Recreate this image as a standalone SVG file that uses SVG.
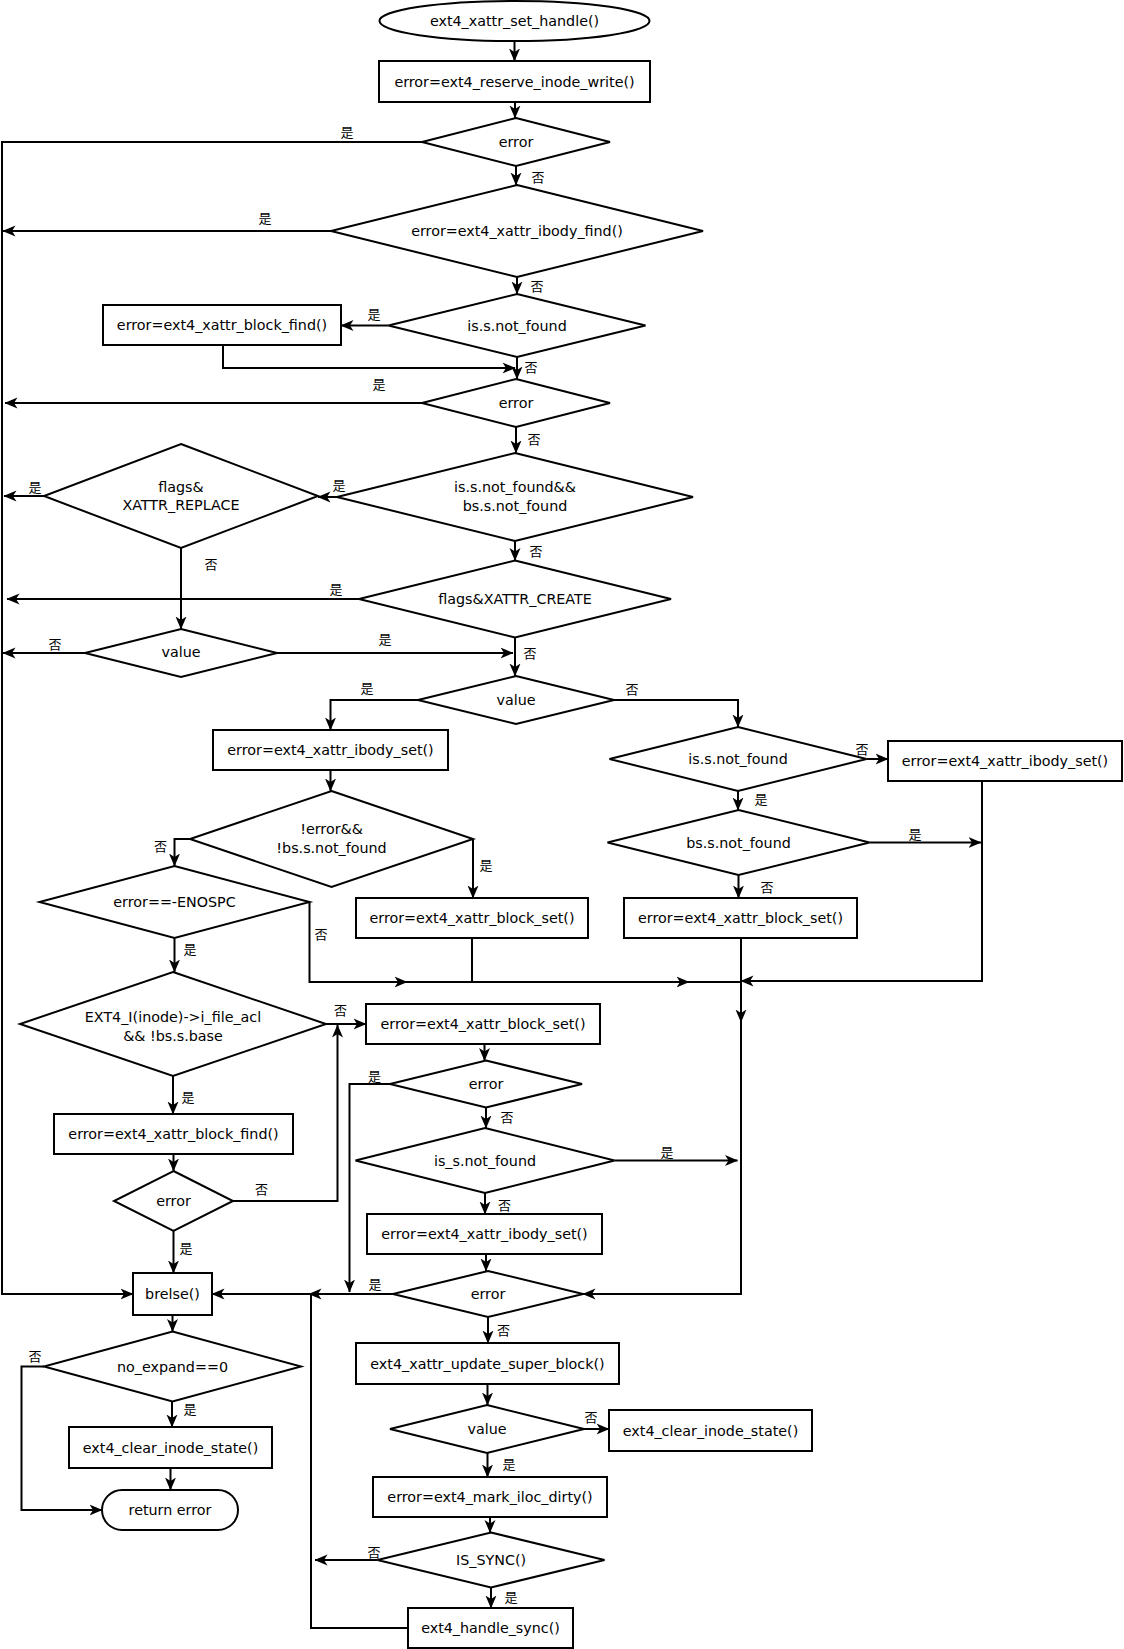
<svg xmlns="http://www.w3.org/2000/svg" width="1124" height="1649" viewBox="0 0 1124 1649">
<style>
.n{fill:#fff;stroke:#000;stroke-width:2}
.t{font-family:"DejaVu Sans",sans-serif;font-size:14.3px;text-anchor:middle;dominant-baseline:central;fill:#000}
.l{font-family:"Noto Sans CJK SC",sans-serif;font-size:13px;text-anchor:middle;dominant-baseline:central;fill:#000}
.c{fill:none;stroke:#000;stroke-width:2}
.a{marker-end:url(#ah)}
</style>
<defs>
<marker id="ah" markerUnits="userSpaceOnUse" markerWidth="13" markerHeight="12" viewBox="0 0 13 12" refX="12.5" refY="6" orient="auto">
<path d="M0,0.5 L13,6 L0,11.5 L3.5,6 z" fill="#000"/>
</marker>
</defs>
<rect width="1124" height="1649" fill="#fff"/>
<g id="connectors">
<path class="c a" d="M514.5,41 V61"/>
<path class="c a" d="M515,102 V118"/>
<path class="c a" d="M422,142 H2 V1294 H133"/>
<path class="c a" d="M516,166 V185"/>
<path class="c a" d="M331,231 H3"/>
<path class="c a" d="M517,277 V294"/>
<path class="c a" d="M388.5,325.5 H341"/>
<path class="c a" d="M223,345 V368 H515"/>
<path class="c a" d="M517,357 V379"/>
<path class="c a" d="M422,403 H5"/>
<path class="c a" d="M516,427 V453"/>
<path class="c a" d="M337,497 H318"/>
<path class="c a" d="M44,496 H4"/>
<path class="c a" d="M181,548 V629"/>
<path class="c a" d="M515,541 V560.5"/>
<path class="c a" d="M359,599 H7"/>
<path class="c a" d="M85,653 H3"/>
<path class="c a" d="M277,653 H513"/>
<path class="c a" d="M515,637.5 V676"/>
<path class="c a" d="M418,700 H330.5 V730"/>
<path class="c a" d="M614,700 H738 V727"/>
<path class="c a" d="M330.5,770 V791"/>
<path class="c a" d="M190,839 H174.5 V866"/>
<path class="c a" d="M473,839 V898"/>
<path class="c a" d="M866.5,759 H888"/>
<path class="c a" d="M738,791 V810"/>
<path class="c a" d="M869.5,842.5 H981"/>
<path class="c a" d="M982,781 V981 H741"/>
<path class="c a" d="M738.5,875 V898"/>
<path class="c a" d="M309.5,902 V982 H407"/>
<path class="c" d="M407,982 H472 V938"/>
<path class="c a" d="M472,982 H689"/>
<path class="c" d="M689,982 H741"/>
<path class="c a" d="M741,938 V1022"/>
<path class="c a" d="M741,1022 V1294 H583"/>
<path class="c a" d="M174.5,938 V972"/>
<path class="c a" d="M326,1024 H366"/>
<path class="c a" d="M173,1076 V1114"/>
<path class="c a" d="M173.5,1154 V1171"/>
<path class="c a" d="M233,1201 H337.5 V1025"/>
<path class="c a" d="M484.5,1044 V1060.5"/>
<path class="c a" d="M390,1084 H349.5 V1292"/>
<path class="c a" d="M486,1107.5 V1128"/>
<path class="c a" d="M614.5,1160.5 H737.5"/>
<path class="c a" d="M485,1193 V1214"/>
<path class="c a" d="M486,1254 V1271"/>
<path class="c a" d="M393,1294 H212"/>
<path class="c a" d="M173.5,1231 V1273"/>
<path class="c a" d="M488,1317 V1343"/>
<path class="c a" d="M487.5,1384 V1405"/>
<path class="c a" d="M584,1429 H609"/>
<path class="c a" d="M487.5,1453 V1477"/>
<path class="c a" d="M490,1517 V1532.5"/>
<path class="c a" d="M377.5,1560 H315"/>
<path class="c a" d="M491,1587.5 V1608"/>
<path class="c a" d="M408,1628 H311 V1294 H309"/>
<path class="c a" d="M172.5,1315 V1331.5"/>
<path class="c a" d="M44,1366.5 H21.5 V1510 H102"/>
<path class="c a" d="M172,1401.5 V1427"/>
<path class="c a" d="M170.5,1468 V1490"/>
</g>
<g id="labels">
<text class="l" x="347" y="131">是</text>
<text class="l" x="538" y="176">否</text>
<text class="l" x="265" y="217">是</text>
<text class="l" x="537" y="285">否</text>
<text class="l" x="374" y="313">是</text>
<text class="l" x="531" y="366">否</text>
<text class="l" x="379" y="383">是</text>
<text class="l" x="534" y="438">否</text>
<text class="l" x="339" y="484">是</text>
<text class="l" x="35" y="486">是</text>
<text class="l" x="211" y="563">否</text>
<text class="l" x="536" y="550">否</text>
<text class="l" x="336" y="588">是</text>
<text class="l" x="55" y="643">否</text>
<text class="l" x="385" y="638">是</text>
<text class="l" x="530" y="652">否</text>
<text class="l" x="367" y="687">是</text>
<text class="l" x="632" y="688">否</text>
<text class="l" x="160.5" y="845">否</text>
<text class="l" x="486" y="864">是</text>
<text class="l" x="862" y="748">否</text>
<text class="l" x="761" y="798">是</text>
<text class="l" x="915" y="833">是</text>
<text class="l" x="767" y="886">否</text>
<text class="l" x="321" y="933">否</text>
<text class="l" x="190" y="948">是</text>
<text class="l" x="340.5" y="1009">否</text>
<text class="l" x="188" y="1096">是</text>
<text class="l" x="261.5" y="1188">否</text>
<text class="l" x="374.5" y="1075">是</text>
<text class="l" x="507" y="1116">否</text>
<text class="l" x="667" y="1151">是</text>
<text class="l" x="504.5" y="1204">否</text>
<text class="l" x="186" y="1247">是</text>
<text class="l" x="375" y="1283">是</text>
<text class="l" x="503.5" y="1329">否</text>
<text class="l" x="591" y="1416">否</text>
<text class="l" x="509" y="1463">是</text>
<text class="l" x="374" y="1551">否</text>
<text class="l" x="511" y="1596">是</text>
<text class="l" x="35" y="1355">否</text>
<text class="l" x="190" y="1408">是</text>
</g>
<g id="n_start"><ellipse class="n" cx="514.5" cy="21" rx="135" ry="20"/><text class="t" x="514.5" y="21">ext4_xattr_set_handle()</text></g>
<g id="n_reserve"><rect class="n" x="379" y="61" width="271" height="41"/><text class="t" x="514.5" y="81.5">error=ext4_reserve_inode_write()</text></g>
<g id="d_error1"><polygon class="n" points="516,118 610,142 516,166 422,142"/><text class="t" x="516" y="142">error</text></g>
<g id="d_ibody_find"><polygon class="n" points="517,185 703,231 517,277 331,231"/><text class="t" x="517" y="231">error=ext4_xattr_ibody_find()</text></g>
<g id="d_is_not_found1"><polygon class="n" points="517,294 645.5,325.5 517,357 388.5,325.5"/><text class="t" x="517" y="325.5">is.s.not_found</text></g>
<g id="n_block_find1"><rect class="n" x="103" y="305" width="238" height="40"/><text class="t" x="222" y="325">error=ext4_xattr_block_find()</text></g>
<g id="d_error2"><polygon class="n" points="516,379 610,403 516,427 422,403"/><text class="t" x="516" y="403">error</text></g>
<g id="d_both_not_found"><polygon class="n" points="515,453 693,497 515,541 337,497"/><text class="t" x="515" y="487">is.s.not_found&amp;&amp;</text><text class="t" x="515" y="506">bs.s.not_found</text></g>
<g id="d_replace"><polygon class="n" points="181,444 318,496 181,548 44,496"/><text class="t" x="181" y="487">flags&amp;</text><text class="t" x="181" y="505">XATTR_REPLACE</text></g>
<g id="d_create"><polygon class="n" points="515,560.5 671,599 515,637.5 359,599"/><text class="t" x="515" y="599">flags&amp;XATTR_CREATE</text></g>
<g id="d_value1"><polygon class="n" points="181,629 277,653 181,677 85,653"/><text class="t" x="181" y="652">value</text></g>
<g id="d_value2"><polygon class="n" points="516,676 614,700 516,724 418,700"/><text class="t" x="516" y="700">value</text></g>
<g id="n_ibody_set1"><rect class="n" x="213" y="730" width="235" height="40"/><text class="t" x="330.5" y="750">error=ext4_xattr_ibody_set()</text></g>
<g id="d_noerr"><polygon class="n" points="331.5,791 473,839 331.5,887 190,839"/><text class="t" x="331.5" y="829">!error&amp;&amp;</text><text class="t" x="331.5" y="848">!bs.s.not_found</text></g>
<g id="d_is_not_found2"><polygon class="n" points="738,727 866.5,759 738,791 609.5,759"/><text class="t" x="738" y="759">is.s.not_found</text></g>
<g id="n_ibody_set2"><rect class="n" x="888" y="741" width="234" height="40"/><text class="t" x="1005" y="761">error=ext4_xattr_ibody_set()</text></g>
<g id="d_bs_not_found"><polygon class="n" points="738.5,810 869.5,842.5 738.5,875 607.5,842.5"/><text class="t" x="738.5" y="842.5">bs.s.not_found</text></g>
<g id="n_block_set2"><rect class="n" x="624" y="898" width="233" height="40"/><text class="t" x="740.5" y="918">error=ext4_xattr_block_set()</text></g>
<g id="n_block_set1"><rect class="n" x="356" y="898" width="232" height="40"/><text class="t" x="472" y="918">error=ext4_xattr_block_set()</text></g>
<g id="d_enospc"><polygon class="n" points="174.5,866 309.5,902 174.5,938 39.5,902"/><text class="t" x="174.5" y="902">error==-ENOSPC</text></g>
<g id="d_file_acl"><polygon class="n" points="173,972 326,1024 173,1076 20,1024"/><text class="t" x="173" y="1017">EXT4_I(inode)-&gt;i_file_acl</text><text class="t" x="173" y="1036">&amp;&amp; !bs.s.base</text></g>
<g id="n_block_set3"><rect class="n" x="366" y="1004" width="234" height="40"/><text class="t" x="483" y="1024">error=ext4_xattr_block_set()</text></g>
<g id="d_error3"><polygon class="n" points="486,1060.5 582,1084 486,1107.5 390,1084"/><text class="t" x="486" y="1084">error</text></g>
<g id="d_is_not_found3"><polygon class="n" points="485,1128 614.5,1160.5 485,1193 355.5,1160.5"/><text class="t" x="485" y="1160.5">is_s.not_found</text></g>
<g id="n_ibody_set3"><rect class="n" x="367" y="1214" width="235" height="40"/><text class="t" x="484.5" y="1234">error=ext4_xattr_ibody_set()</text></g>
<g id="n_block_find2"><rect class="n" x="54" y="1114" width="239" height="40"/><text class="t" x="173.5" y="1134">error=ext4_xattr_block_find()</text></g>
<g id="d_error4"><polygon class="n" points="173.5,1171 233,1201 173.5,1231 114,1201"/><text class="t" x="173.5" y="1201">error</text></g>
<g id="n_brelse"><rect class="n" x="133" y="1273" width="79" height="42"/><text class="t" x="172.5" y="1294">brelse()</text></g>
<g id="d_error5"><polygon class="n" points="488,1271 583,1294 488,1317 393,1294"/><text class="t" x="488" y="1294">error</text></g>
<g id="n_update_sb"><rect class="n" x="356" y="1343" width="263" height="41"/><text class="t" x="487.5" y="1363.5">ext4_xattr_update_super_block()</text></g>
<g id="d_value3"><polygon class="n" points="487,1405 584,1429 487,1453 390,1429"/><text class="t" x="487" y="1429">value</text></g>
<g id="n_clear_state2"><rect class="n" x="609" y="1410" width="203" height="41"/><text class="t" x="710.5" y="1430.5">ext4_clear_inode_state()</text></g>
<g id="n_mark_dirty"><rect class="n" x="373" y="1477" width="234" height="40"/><text class="t" x="490" y="1497">error=ext4_mark_iloc_dirty()</text></g>
<g id="d_is_sync"><polygon class="n" points="491,1532.5 604.5,1560 491,1587.5 377.5,1560"/><text class="t" x="491" y="1560">IS_SYNC()</text></g>
<g id="n_handle_sync"><rect class="n" x="408" y="1608" width="165" height="40"/><text class="t" x="490.5" y="1628">ext4_handle_sync()</text></g>
<g id="d_no_expand"><polygon class="n" points="172.5,1331.5 301,1366.5 172.5,1401.5 44,1366.5"/><text class="t" x="172.5" y="1366.5">no_expand==0</text></g>
<g id="n_clear_state1"><rect class="n" x="69" y="1427" width="203" height="41"/><text class="t" x="170.5" y="1447.5">ext4_clear_inode_state()</text></g>
<g id="n_return"><rect class="n" x="102" y="1490" width="136" height="40" rx="20" ry="20"/><text class="t" x="170" y="1510">return error</text></g>
</svg>
